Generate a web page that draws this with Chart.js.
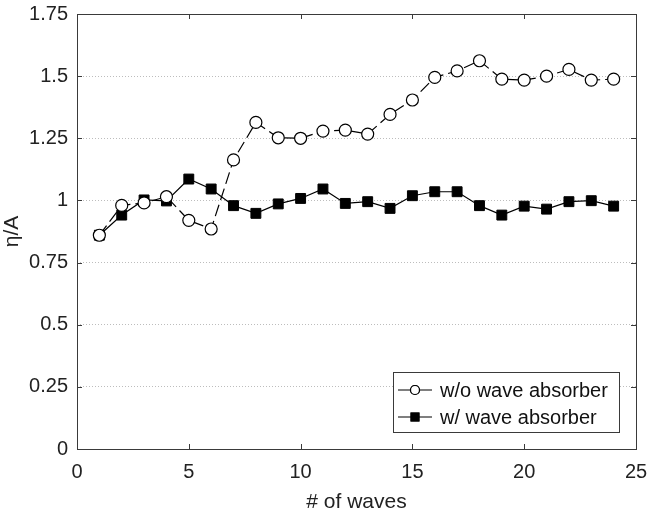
<!DOCTYPE html>
<html>
<head>
<meta charset="utf-8">
<script src="https://cdn.jsdelivr.net/npm/chart.js@4/dist/chart.umd.min.js"></script>
<style>
  html, body { margin: 0; padding: 0; background: #fff; }
  #wrap { width: 648px; height: 518px; }
</style>
</head>
<body>
<div id="wrap"><canvas id="chart" width="648" height="518"></canvas></div>
<script>
// values
const waves = [1, 2, 3, 4, 5, 6, 7, 8, 9, 10, 11, 12, 13, 14, 15, 16, 17, 18, 19, 20, 21, 22, 23, 24];
const withoutAbsorber = [0.86, 0.98, 0.99, 1.015, 0.92, 0.885, 1.163, 1.314, 1.252, 1.25, 1.279, 1.283,
                         1.267, 1.346, 1.404, 1.495, 1.521, 1.562, 1.488, 1.484, 1.5, 1.527, 1.484, 1.488];
const withAbsorber = [0.86, 0.941, 1.002, 0.998, 1.086, 1.046, 0.979, 0.948, 0.986, 1.008, 1.046, 0.988,
                      0.995, 0.968, 1.019, 1.035, 1.035, 0.979, 0.941, 0.977, 0.965, 0.995, 0.999, 0.977];
const xTicks = [0, 5, 10, 15, 20, 25];
const yTicks = [0, 0.25, 0.5, 0.75, 1, 1.25, 1.5, 1.75];
const seriesNames = ['w/o wave absorber', 'w/ wave absorber'];

const FONT = 'Liberation Sans, Arial, Helvetica, sans-serif';
const AXIS_COLOR = '#3a3a3a';

function toPoints(ys) {
    return waves.map((x, i) => ({ x, y: ys[i] }));
}

// box around the plot with inward ticks on all four sides (matlab style)
const boxPlugin = {
    id: 'box',
    afterDatasetsDraw(chart) {
        const { ctx, chartArea: a, scales } = chart;
        ctx.save();
        ctx.strokeStyle = AXIS_COLOR;
        ctx.lineWidth = 1;
        ctx.strokeRect(a.left + 0.5, a.top + 0.5, a.right - a.left, a.bottom - a.top);
        ctx.beginPath();
        xTicks.forEach(v => {
            const px = Math.round(scales.x.getPixelForValue(v)) + 0.5;
            ctx.moveTo(px, a.bottom); ctx.lineTo(px, a.bottom - 5);
            ctx.moveTo(px, a.top); ctx.lineTo(px, a.top + 5);
        });
        yTicks.forEach(v => {
            const py = Math.round(scales.y.getPixelForValue(v)) + 0.5;
            ctx.moveTo(a.left, py); ctx.lineTo(a.left + 5, py);
            ctx.moveTo(a.right, py); ctx.lineTo(a.right - 5, py);
        });
        ctx.stroke();
        ctx.restore();
    }
};

// legend box inside lower right corner
const legendPlugin = {
    id: 'boxLegend',
    afterDraw(chart) {
        const { ctx, chartArea: a } = chart;
        const w = 226, h = 60;
        const left = a.right - 17 - w, top = a.bottom - 17 - h;
        ctx.save();
        ctx.fillStyle = '#fff';
        ctx.fillRect(left, top, w, h);
        ctx.strokeStyle = AXIS_COLOR;
        ctx.lineWidth = 1;
        ctx.strokeRect(left + 0.5, top + 0.5, w, h);
        chart.data.datasets.forEach((ds, i) => {
            const cy = top + 18 + i * 27;
            ctx.strokeStyle = ds.borderColor;
            ctx.lineWidth = 1.2;
            ctx.setLineDash([]);
            ctx.beginPath();
            ctx.moveTo(left + 5, cy); ctx.lineTo(left + 39, cy);
            ctx.stroke();
            Chart.helpers.drawPoint(ctx, {
                pointStyle: ds.pointStyle, radius: ds.pointRadius - 1.5, borderWidth: 1.2
            }, left + 22, cy);
            ctx.fillStyle = ds.pointBackgroundColor;
            ctx.fill();
            ctx.stroke();
            ctx.fillStyle = '#111';
            ctx.font = '20px ' + FONT;
            ctx.textBaseline = 'middle';
            ctx.fillText(seriesNames[i], left + 47, cy + 1);
        });
        ctx.restore();
    }
};

new Chart(document.getElementById('chart'), {
    type: 'line',
    data: {
        datasets: [{
            label: seriesNames[0],
            data: toPoints(withoutAbsorber),
            borderColor: '#000',
            borderWidth: 1.2,
            borderDash: [12, 5],
            pointStyle: 'circle',
            pointRadius: 6,
            pointBorderWidth: 1.2,
            pointBorderColor: '#000',
            pointBackgroundColor: '#fff',
            tension: 0
        }, {
            label: seriesNames[1],
            data: toPoints(withAbsorber),
            borderColor: '#000',
            borderWidth: 1.2,
            pointStyle: 'rect',
            pointRadius: 7,
            pointBorderWidth: 1,
            pointBorderColor: '#000',
            pointBackgroundColor: '#000',
            tension: 0
        }]
    },
    options: {
        responsive: false,
        animation: false,
        layout: { padding: { left: 0, right: 12, top: 14, bottom: 0 } },
        plugins: {
            legend: { display: false },
            tooltip: { enabled: false }
        },
        scales: {
            x: {
                type: 'linear',
                min: 0, max: 25,
                afterBuildTicks: s => { s.ticks = xTicks.map(v => ({ value: v })); },
                afterFit: s => { s.height = 69; s.paddingLeft = 0; s.paddingRight = 0; },
                grid: { display: false, drawTicks: false },
                border: { display: false },
                ticks: {
                    padding: 11,
                    color: '#222',
                    font: { family: FONT, size: 20 },
                    callback: v => String(v)
                },
                title: {
                    display: true,
                    text: '# of waves',
                    color: '#222',
                    font: { family: FONT, size: 21 },
                    padding: { top: 0, bottom: 3 }
                }
            },
            y: {
                type: 'linear',
                min: 0, max: 1.75,
                afterBuildTicks: s => { s.ticks = yTicks.map(v => ({ value: v })); },
                afterFit: s => { s.width = 77; s.paddingTop = 0; s.paddingBottom = 0; },
                grid: { color: '#bdbdbd', lineWidth: 1, drawTicks: false },
                border: { display: false, dash: [1, 2] },
                ticks: {
                    padding: 9,
                    color: '#222',
                    font: { family: FONT, size: 20 },
                    callback: v => String(v)
                },
                title: {
                    display: true,
                    text: 'η/A',
                    color: '#222',
                    font: { family: FONT, size: 21 },
                    padding: { top: 0, bottom: 0 }
                }
            }
        }
    },
    plugins: [boxPlugin, legendPlugin]
});
</script>
</body>
</html>
